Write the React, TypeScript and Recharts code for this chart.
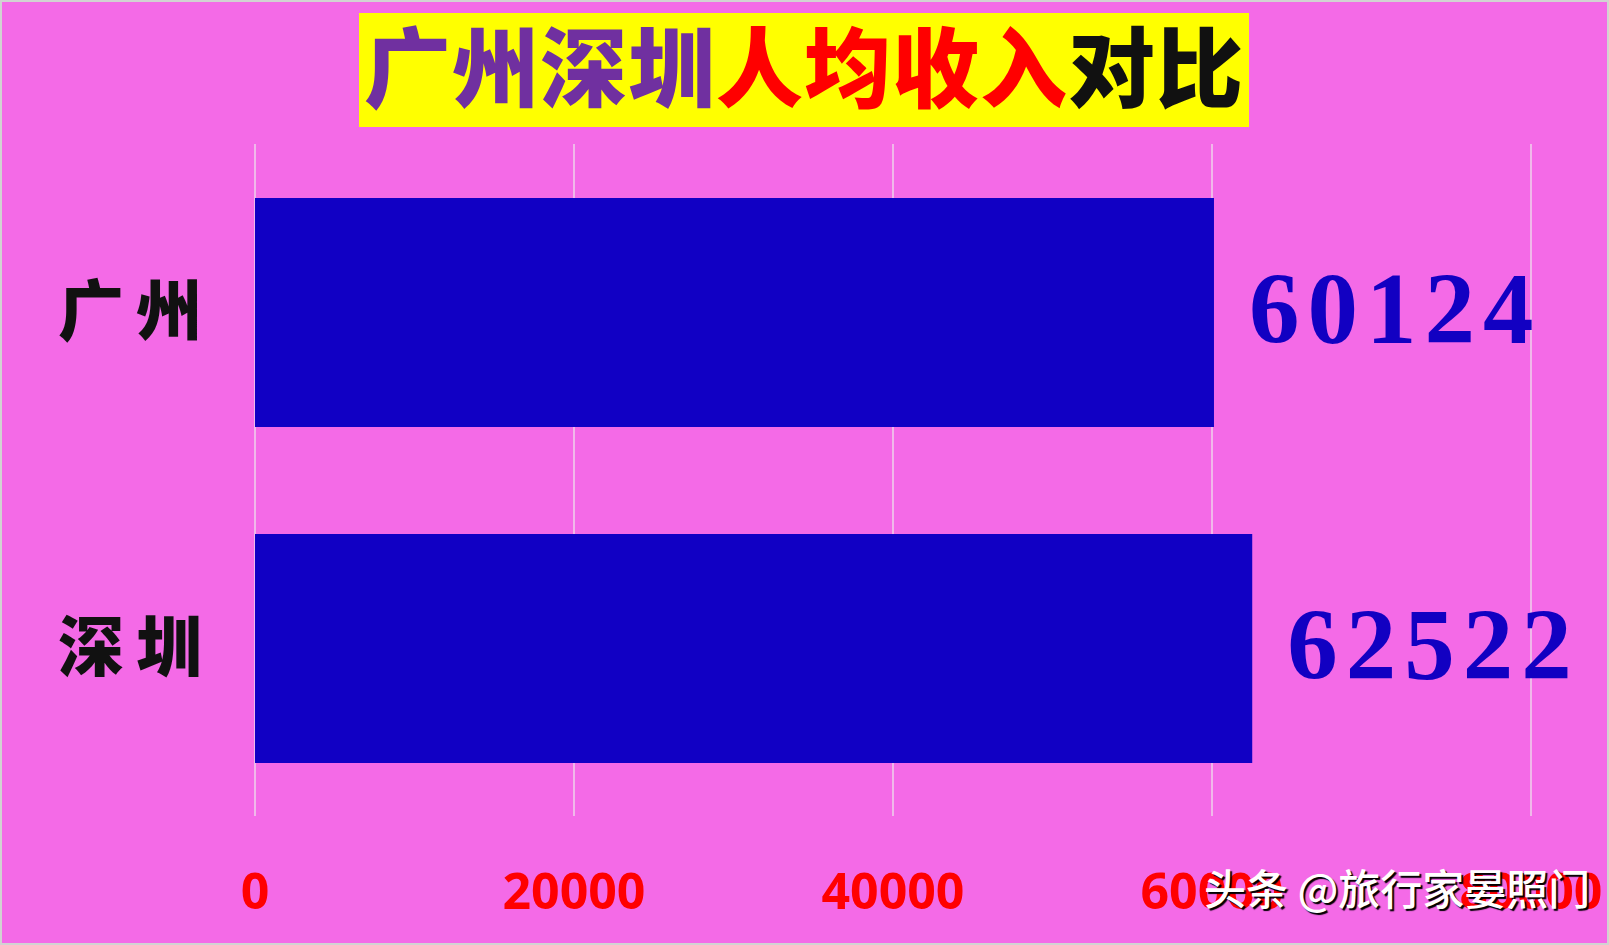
import React from 'react';
import { BarChart, Bar, XAxis, YAxis, CartesianGrid, LabelList } from 'recharts';

const cities = ['广州', '深圳'];
const incomes = [60124, 62522];
const xTicks = [0, 20000, 40000, 60000, 80000];

const titleParts = [
  { text: '广州深圳', color: '#7030A0' },
  { text: '人均收入', color: '#FF0000' },
  { text: '对比', color: '#111111' },
];

const data = cities.map((city, i) => ({ city, income: incomes[i] }));

const W = 1609;
const H = 945;

const renderValue = (p: any) => (
  <text
    x={p.x + p.width + 35}
    y={p.y + p.height / 2}
    dy="0.3em"
    fill="#1200C2"
    fontSize={101}
    fontWeight="bold"
    letterSpacing={8}
    fontFamily="'Liberation Serif', serif"
  >
    {p.value}
  </text>
);

export default function App() {
  return (
    <div style={{ position: 'absolute', left: 0, top: 0, width: W, height: H, background: '#F46AE7' }}>
      <BarChart
        width={W}
        height={H}
        data={data}
        layout="vertical"
        margin={{ top: 144, right: 78, bottom: 0, left: 0 }}
      >
        <CartesianGrid horizontal={false} stroke="#EDEDED" strokeWidth={1.2} />
        <XAxis
          type="number"
          domain={[0, 80000]}
          ticks={xTicks}
          height={129}
          axisLine={false}
          tickLine={false}
          tickSize={0}
          tickMargin={57}
          interval={0}
          tick={{ fill: '#FF0000', fontSize: 50, fontWeight: 'bold', fontFamily: "'Open Sans', sans-serif" }}
        />
        <YAxis
          type="category"
          dataKey="city"
          width={255}
          axisLine={false}
          tickLine={false}
          tickSize={0}
          tickMargin={41}
          tick={{ fill: '#111111', fontSize: 66, fontWeight: 900, letterSpacing: 12, fontFamily: "'Noto Sans CJK SC', sans-serif" }}
        />
        <Bar dataKey="income" fill="#1100C4" barSize={229} isAnimationActive={false}>
          <LabelList dataKey="income" content={renderValue} />
        </Bar>
      </BarChart>

      {/* title box */}
      <div
        style={{
          position: 'absolute',
          left: 359,
          top: 13,
          width: 890,
          height: 114,
          background: '#FFFF00',
          display: 'flex',
          alignItems: 'center',
          justifyContent: 'center',
          overflow: 'visible',
        }}
      >
        <span
          style={{
            fontFamily: "'Noto Sans CJK SC', sans-serif",
            fontWeight: 900,
            fontSize: 87,
            letterSpacing: 1,
            whiteSpace: 'nowrap',
            lineHeight: 1,
            marginTop: -14,
          }}
        >
          {titleParts.map((t) => (
            <span key={t.text} style={{ color: t.color }}>
              {t.text}
            </span>
          ))}
        </span>
      </div>

      {/* watermark */}
      <div
        style={{
          position: 'absolute',
          left: 1204,
          top: 866,
          color: '#FFFFFF',
          fontSize: 42,
          fontWeight: 500,
          fontFamily: "'Noto Sans CJK SC', sans-serif",
          textShadow: '2px 2px 1px #000000',
          whiteSpace: 'nowrap',
          lineHeight: 1,
        }}
      >
        头条 @旅行家晏照门
      </div>

      {/* outer border */}
      <div
        style={{
          position: 'absolute',
          left: 0,
          top: 0,
          width: W,
          height: H,
          boxSizing: 'border-box',
          border: '2px solid #D2D2D2',
          pointerEvents: 'none',
        }}
      />
    </div>
  );
}
